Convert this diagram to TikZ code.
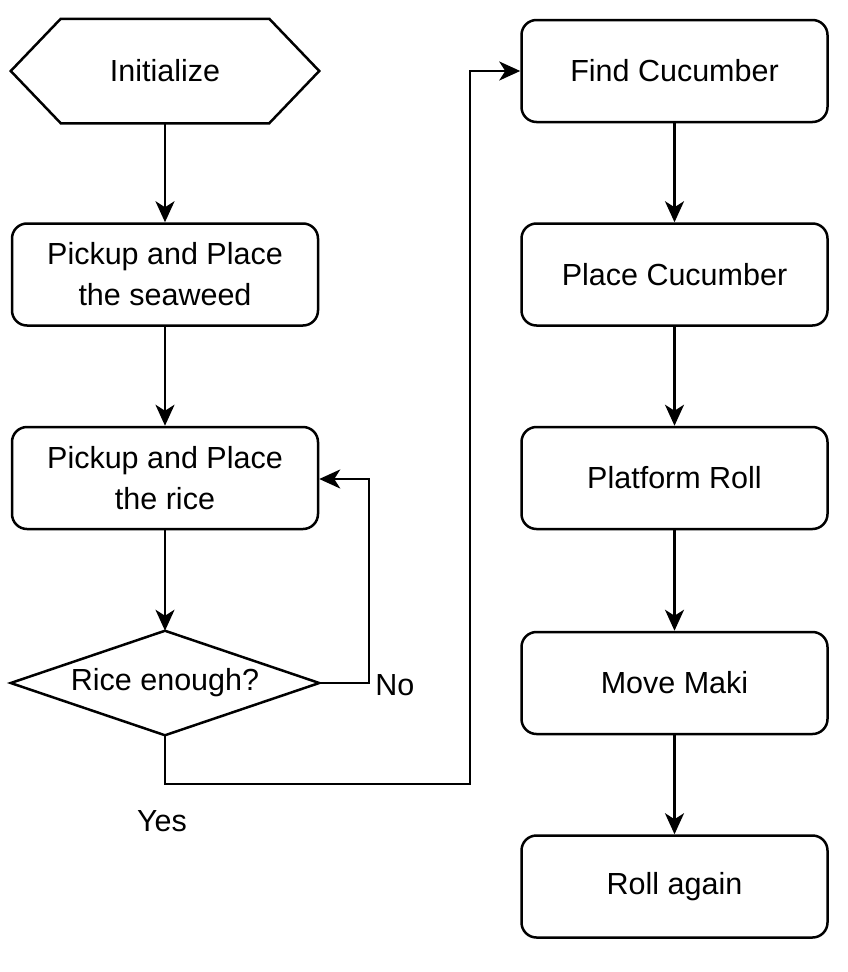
\documentclass[tikz,border=0pt]{standalone}
\usepackage{fontspec}
\setmainfont{Liberation Sans}
\usetikzlibrary{arrows.meta}
\begin{document}
\begin{tikzpicture}[x=1pt,y=-1pt,
  font=\fontsize{30.5}{41}\selectfont,
  line width=2.5pt,
  box/.style={draw, rounded corners=15pt, minimum width=306pt, minimum height=102pt, align=center, inner sep=0pt},
  ghost/.style={minimum width=306pt, minimum height=102pt, align=center, inner sep=0pt},
  flow/.style={draw, -{Stealth[length=21pt,width=19pt,inset=6pt]}},
  lbl/.style={inner sep=0pt}
]
\useasboundingbox (0,0) rectangle (848,972);
% left column
\node[ghost] (init) at (165,71) {Initialize};
\draw (init.west) -- ([xshift=50pt]init.north west) -- ([xshift=-50pt]init.north east)
  -- (init.east) -- ([xshift=-50pt]init.south east) -- ([xshift=50pt]init.south west) -- cycle;
\node[box] (seaweed) at (165,274.5) {Pickup and Place\\the seaweed};
\node[box] (rice) at (165,478) {Pickup and Place\\the rice};
\node[ghost] (dec) at (165,683) {Rice enough?};
\draw (dec.west) -- (dec.north) -- (dec.east) -- (dec.south) -- cycle;
% right column
\node[box] (find) at (674.5,71) {Find Cucumber};
\node[box] (place) at (674.5,274.5) {Place Cucumber};
\node[box] (roll) at (674.5,478) {Platform Roll};
\node[box] (move) at (674.5,683) {Move Maki};
\node[box] (again) at (674.5,886.5) {Roll again};
% connectors
\draw[flow] (init.south) -- (seaweed.north);
\draw[flow] (seaweed.south) -- (rice.north);
\draw[flow] (rice.south) -- (dec.north);
\coordinate (nocorner1) at (369,683);
\coordinate (nocorner2) at (369,479);
\draw[flow] (dec.east) -- (nocorner1) -- (nocorner2) -- (rice.east |- nocorner2);
\node[lbl, anchor=west] (no) at (374,685) {No};
\coordinate (yes1) at (165,784);
\coordinate (yes2) at (470,784);
\draw[flow] (dec.south) -- (yes1) -- (yes2) -- (yes2 |- find.west) -- (find.west);
\node[lbl] (yes) at (162,821) {Yes};
\draw[flow] (find.south) -- (place.north);
\draw[flow] (place.south) -- (roll.north);
\draw[flow] (roll.south) -- (move.north);
\draw[flow] (move.south) -- (again.north);
\end{tikzpicture}
\end{document}
